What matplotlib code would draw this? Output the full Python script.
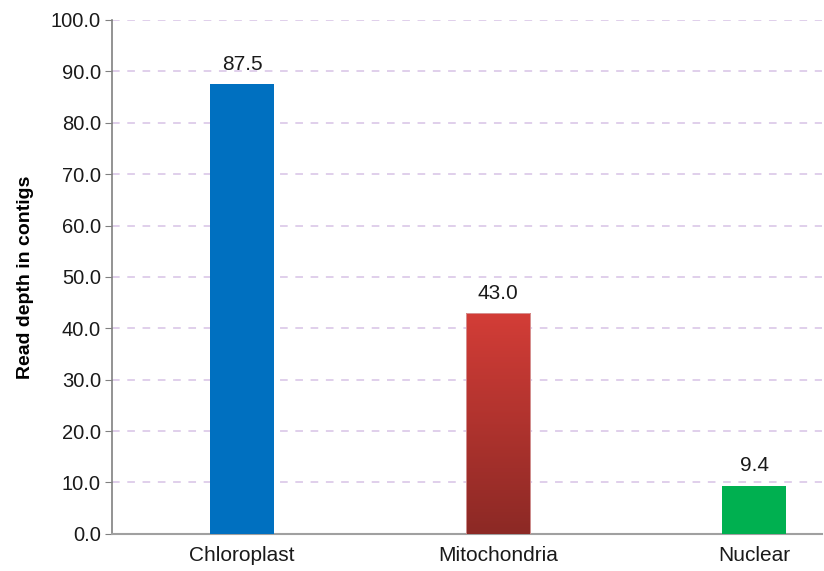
import numpy as np
import matplotlib.pyplot as plt
from matplotlib.colors import LinearSegmentedColormap

plt.rcParams['font.family'] = ['Liberation Sans', 'DejaVu Sans']

# chart data
categories = ['Chloroplast', 'Mitochondria', 'Nuclear']
read_depth = [87.5, 43.0, 9.4]
yticks = np.arange(0, 101, 10)

fig = plt.figure(figsize=(8.24, 5.71), dpi=100)
ax = fig.add_axes([0.136, 0.065, 0.862, 0.9])

x = np.arange(len(categories))
bar_w = 0.25
colors = ['#0070c0', '#c0392f', '#00b050']
bars = ax.bar(x, read_depth, width=bar_w, color=colors, zorder=3)

# gradient fill for the mitochondria bar
mito = bars[1]
mito.set_facecolor('none')
mito.set_edgecolor('#d9a0a0')
mito.set_linewidth(0.6)
cmap = LinearSegmentedColormap.from_list('red_grad', ['#8c2925', '#d33d37'])
grad = np.linspace(0, 1, 256).reshape(-1, 1)
bx, by = mito.get_x(), mito.get_y()
img = ax.imshow(grad, cmap=cmap, origin='lower', aspect='auto', zorder=2.9,
                extent=[bx, bx + mito.get_width(), by, by + mito.get_height()])
img.set_clip_path(mito)

for xi, v in zip(x, read_depth):
    ax.text(xi, v + 2.0, f'{v:.1f}', ha='center', va='bottom', fontsize=15, color='#1a1a1a')

ax.set_xlim(-0.508, 2.266)
ax.set_ylim(0, 100)
ax.set_yticks(yticks)
ax.set_yticklabels([f'{t:.1f}' for t in yticks], fontsize=14.5, color='#1a1a1a')
ax.set_xticks(x)
ax.set_xticklabels(categories, fontsize=15, color='#1a1a1a')
ax.tick_params(axis='x', length=0, pad=9)
ax.tick_params(axis='y', length=5, color='#808080', pad=3)
ax.set_ylabel('Read depth in contigs', fontsize=14, fontweight='bold', labelpad=12)

ax.grid(axis='y', linestyle=(0, (5, 5)), color='#d7c2e6', linewidth=1.1, zorder=0)
ax.set_axisbelow(True)
for s in ['top', 'right']:
    ax.spines[s].set_visible(False)
ax.spines['left'].set_color('#808080')
ax.spines['bottom'].set_color('#a0a0a0')
ax.spines['left'].set_linewidth(1.2)
ax.spines['bottom'].set_linewidth(1.5)

fig.savefig('out.png', dpi=100)
